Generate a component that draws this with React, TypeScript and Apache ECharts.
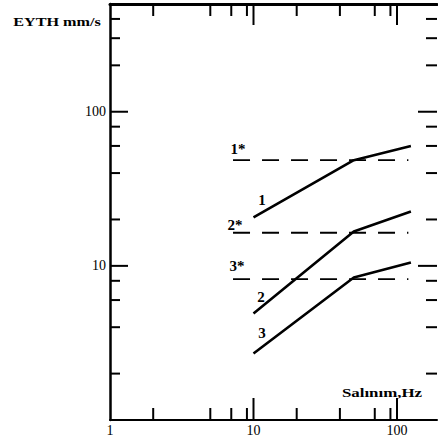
import React, { useEffect, useRef } from "react";
import * as echarts from "echarts";

// Axis ranges
const X_MIN = 1;
const X_MAX = 190;
const Y_MIN = 1;
const Y_MAX = 500;

// Tick positions (values)
const xLabelValues = [1, 10, 100];
const yLabelValues = [10, 100];
const xMajorTicks = [10, 100];
const xMinorTicks = [2, 5, 7, 9, 20, 40, 70, 90];
const yMajorTicks = [10, 100];
const yMinorTicks = [2, 4, 6, 8, 20, 40, 60, 80, 200, 300, 400];

// Curves: frequency (Hz) vs velocity (mm/s)
const curve1 = [[10, 20.6], [50, 48.5], [125, 60]];
const curve2 = [[10, 4.9], [50, 16.7], [125, 22.5]];
const curve3 = [[10, 2.7], [50, 8.4], [125, 10.5]];

// Dashed limit levels
const limitX = [7.2, 120];
const limit1 = 48.5;
const limit2 = 16.4;
const limit3 = 8.2;

const FONT = "Liberation Serif";

export default function App() {
  const ref = useRef<HTMLDivElement>(null);

  useEffect(() => {
    document.body.style.margin = "0";
    const chart = echarts.init(ref.current!, null, { renderer: "svg" });

    const xTickData = [
      ...xMinorTicks.map((v) => [v, 1, 12, 12]),
      ...xMajorTicks.map((v) => [v, 1, 22, 21]),
    ];
    const yTickData = [
      ...yMinorTicks.map((v) => [1, v, 10, 11]),
      ...yMajorTicks.map((v) => [1, v, 18, 19]),
    ];

    const tickStyle = { stroke: "#000", lineWidth: 2 };

    const lineSeries = (data: number[][]) => ({
      type: "line",
      data,
      showSymbol: false,
      symbol: "none",
      lineStyle: { color: "#000", width: 2.6 },
      silent: true,
    });
    const dashSeries = (level: number) => ({
      type: "line",
      data: limitX.map((x) => [x, level]),
      showSymbol: false,
      symbol: "none",
      lineStyle: { color: "#000", width: 1.8, type: [17, 12] },
      silent: true,
    });

    const text = (t: string, x: number, y: number, size = 15, bold = true, scaleX = 1) => ({
      type: "text",
      x,
      y,
      scaleX,
      style: {
        text: t,
        fill: "#000",
        font: `${bold ? "bold " : ""}${size}px '${FONT}'`,
        textAlign: "center",
        textVerticalAlign: "middle",
      },
      silent: true,
    });

    const isLabel = (list: number[], v: number) => list.some((l) => Math.abs(l - v) < 1e-6 * l);

    chart.setOption({
      animation: false,
      backgroundColor: "#fff",
      grid: { left: 110, top: 4, right: 1, bottom: 21, containLabel: false },
      xAxis: [
        {
          type: "log",
          logBase: 10,
          min: X_MIN,
          max: X_MAX,
          position: "bottom",
          axisLine: { show: true, lineStyle: { color: "#000", width: 2 } },
          axisTick: { show: false },
          splitLine: { show: false },
          axisLabel: {
            color: "#000",
            fontFamily: FONT,
            fontSize: 14,
            margin: 3,
            showMaxLabel: false,
            formatter: (v: number) => (isLabel(xLabelValues, v) ? String(Math.round(v)) : ""),
          },
        },
        {
          type: "log",
          logBase: 10,
          min: X_MIN,
          max: X_MAX,
          position: "top",
          axisLine: { show: true, lineStyle: { color: "#000", width: 3 } },
          axisTick: { show: false },
          splitLine: { show: false },
          axisLabel: { show: false },
        },
      ],
      yAxis: [
        {
          type: "log",
          logBase: 10,
          min: Y_MIN,
          max: Y_MAX,
          position: "left",
          axisLine: { show: true, lineStyle: { color: "#000", width: 2.5 } },
          axisTick: { show: false },
          splitLine: { show: false },
          axisLabel: {
            color: "#000",
            fontFamily: FONT,
            fontSize: 14,
            margin: 4,
            formatter: (v: number) => (isLabel(yLabelValues, v) ? String(Math.round(v)) : ""),
          },
        },
        {
          type: "log",
          logBase: 10,
          min: Y_MIN,
          max: Y_MAX,
          position: "right",
          axisLine: { show: false },
          axisTick: { show: false },
          splitLine: { show: false },
          axisLabel: { show: false },
        },
      ],
      series: [
        lineSeries(curve1),
        lineSeries(curve2),
        lineSeries(curve3),
        dashSeries(limit1),
        dashSeries(limit2),
        dashSeries(limit3),
        {
          type: "custom",
          coordinateSystem: "cartesian2d",
          silent: true,
          clip: false,
          data: xTickData,
          renderItem: (params: any, api: any) => {
            const v = api.value(0);
            const lb = api.value(2);
            const lt = api.value(3);
            const b = api.coord([v, Y_MIN]);
            const t = api.coord([v, Y_MAX]);
            return {
              type: "group",
              children: [
                { type: "line", shape: { x1: b[0], y1: b[1], x2: b[0], y2: b[1] - lb }, style: tickStyle },
                { type: "line", shape: { x1: t[0], y1: t[1], x2: t[0], y2: t[1] + lt }, style: tickStyle },
              ],
            };
          },
        },
        {
          type: "custom",
          coordinateSystem: "cartesian2d",
          silent: true,
          clip: false,
          data: yTickData,
          renderItem: (params: any, api: any) => {
            const v = api.value(1);
            const ll = api.value(2);
            const lr = api.value(3);
            const l = api.coord([X_MIN, v]);
            const r = api.coord([X_MAX, v]);
            return {
              type: "group",
              children: [
                { type: "line", shape: { x1: l[0], y1: l[1], x2: l[0] + ll, y2: l[1] }, style: tickStyle },
                { type: "line", shape: { x1: r[0] - lr, y1: r[1], x2: r[0], y2: r[1] }, style: tickStyle },
              ],
            };
          },
        },
      ],
      graphic: [
        text("EYTH mm/s", 57, 22, 12, true, 1.35),
        text("Salınım,Hz", 382, 393, 13, true, 1.3),
        text("1*", 238, 149),
        text("1", 262, 200),
        text("2*", 235, 225),
        text("2", 261, 297),
        text("3*", 237, 266),
        text("3", 262, 333),
      ],
    });

    return () => chart.dispose();
  }, []);

  return (
    <div
      ref={ref}
      style={{ position: "absolute", left: 0, top: 0, width: 438, height: 441 }}
    />
  );
}
